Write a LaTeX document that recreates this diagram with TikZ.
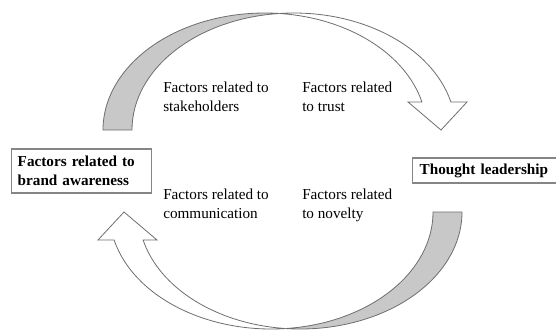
\documentclass[tikz,border=0pt]{standalone}
\usepackage{fontspec}
\setmainfont{Liberation Serif}
\newcommand\factorfont{\fontsize{11.4}{14.6}\selectfont}
\definecolor{arrowgray}{HTML}{6E6E6E}
\definecolor{facegray}{HTML}{C8C8C8}
\definecolor{boxgray}{HTML}{858585}
\tikzset{
  arrowline/.style={draw=arrowgray, line width=0.6pt, line join=miter},
  backface/.style={arrowline, fill=facegray},
  frontface/.style={arrowline, fill=white},
  factor/.style={inner sep=0pt, anchor=base west, align=left, font=\factorfont},
  framebox/.style={draw=boxgray, line width=1.1pt, rectangle, anchor=west,
    inner ysep=0pt, align=left, font=\factorfont\bfseries},
  % curved arrow built from two offset elliptic arcs
  curved arrow/.pic={
    \path[backface] (103,200)
      arc[start angle=180, end angle=84.86, x radius=121.35pt, y radius=87.75pt]
      arc[start angle=95.14, end angle=180, x radius=121.35pt, y radius=87.75pt]
      -- cycle;
    \path[frontface] (421.9,228)
      arc[start angle=13.85, end angle=84.86, x radius=121.35pt, y radius=87.75pt]
      arc[start angle=95.14, end angle=13.85, x radius=121.35pt, y radius=87.75pt]
      -- (467,228) -- (441,200) -- (408,228) -- cycle;
  }
}
\begin{document}
\begin{tikzpicture}[x=0.75pt, y=0.75pt]
  \useasboundingbox (0,0) rectangle (556,330);

  % the two cycle arrows
  \pic (upper) {curved arrow};
  \pic[rotate=180] (lower) at (565,318) {curved arrow};

  % end-point boxes
  \node[framebox, minimum width=105pt, minimum height=33pt, inner xsep=4.5pt,
        text width=96pt] (aware) at (11,159)
        {Factors related to\\brand awareness};
  \node[framebox, minimum width=109.5pt, minimum height=18.75pt, inner xsep=5.25pt,
        text width=99pt] (lead) at (412,159.5) {Thought leadership};

  % factor labels
  \node[factor] (stake) at (163,218.5) {Factors related to\\stakeholders};
  \node[factor] (trust) at (302,218.5) {Factors related\\to trust};
  \node[factor] (comm)  at (163,111.5) {Factors related to\\communication};
  \node[factor] (novel) at (302,111.5) {Factors related\\to novelty};
\end{tikzpicture}
\end{document}
